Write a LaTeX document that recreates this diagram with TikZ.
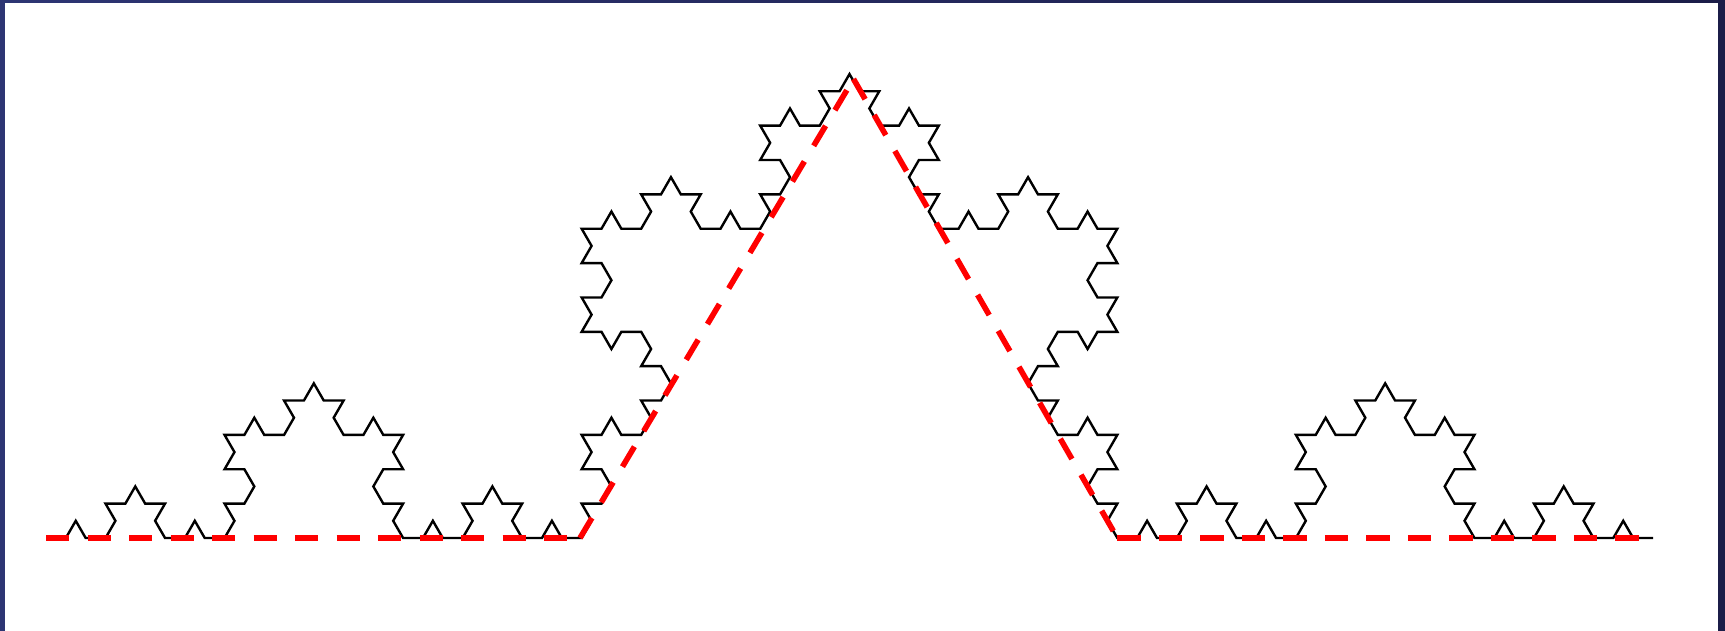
\documentclass[tikz,border=0pt]{standalone}
\definecolor{framel}{HTML}{2D3573}
\definecolor{framer}{HTML}{1B1D48}
\definecolor{genred}{HTML}{FF0000}
\tikzset{
  kochline/.style={black, line width=2.4pt, line join=miter},
  genline/.style={genred, line width=5.6pt, dash pattern=on 23.3pt off 18.2pt},
  declare function={kt(\d)=60*((\d==1)-(\d==2));},
}
\begin{document}
\begin{tikzpicture}[x=1pt,y=1pt]
\useasboundingbox (0,0) rectangle (1725,631);
\shade[left color=framel, right color=framer] (0,0) rectangle (1725,631);
\fill[white] (5,0) rectangle (1718,628);
\coordinate (A) at (46,93);
\coordinate (B) at (580,93);
\coordinate (C) at (853.5,552);
\coordinate (D) at (1117.33,93);
\coordinate (E) at (1653,93);
\draw[kochline] (A)
  \foreach \i [evaluate=\i as \ang using {kt(mod(\i,4))+kt(mod(floor(\i/4),4))+kt(mod(floor(\i/16),4))+kt(floor(\i/64))}] in {0,...,255} { -- ++(\ang:19.8395) };
\draw[genline] (A) -- (B);
\draw[genline] (B) -- (C);
\draw[genline] (C) -- (D);
\draw[genline] (D) -- (E);
\end{tikzpicture}
\end{document}
